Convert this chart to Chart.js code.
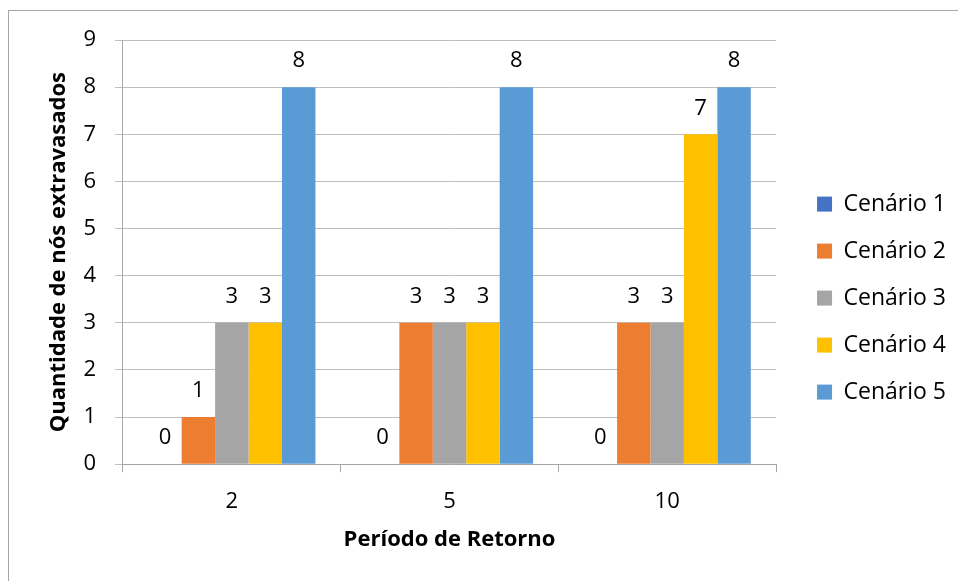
<!DOCTYPE html>
<html>
<head>
<meta charset="utf-8">
<script src="https://cdn.jsdelivr.net/npm/chart.js@4.4.1/dist/chart.umd.min.js"></script>
<style>
  html, body { margin: 0; padding: 0; background: #fff; overflow: hidden; }
  #frame { position: absolute; left: 8px; top: 10px; width: 1000px; height: 1000px; border: 1px solid #a6a6a6; }
  #chart { position: absolute; left: 0; top: 0; }
</style>
</head>
<body>
<div id="frame"></div>
<canvas id="chart" width="958" height="581"></canvas>
<script>
// Return periods on the x axis
const periods = ['2', '5', '10'];

// Overflowed nodes per scenario, one value per return period
const cenario1 = [0, 0, 0];
const cenario2 = [1, 3, 3];
const cenario3 = [3, 3, 3];
const cenario4 = [3, 3, 7];
const cenario5 = [8, 8, 8];

const scenarioNames = ['Cenário 1', 'Cenário 2', 'Cenário 3', 'Cenário 4', 'Cenário 5'];
const scenarioColors = ['#4472C4', '#ED7D31', '#A5A5A5', '#FFC000', '#5B9BD5'];
const scenarioValues = [cenario1, cenario2, cenario3, cenario4, cenario5];

const yMax = 9;

Chart.defaults.font.family = "'Open Sans', sans-serif";
Chart.defaults.color = '#000';

// Writes each bar's value just above it
const barValueLabels = {
  id: 'barValueLabels',
  afterDatasetsDraw(chart) {
    const ctx = chart.ctx;
    ctx.save();
    ctx.font = "22px 'Open Sans', sans-serif";
    ctx.fillStyle = '#000';
    ctx.textAlign = 'center';
    ctx.textBaseline = 'middle';
    chart.data.datasets.forEach((ds, i) => {
      chart.getDatasetMeta(i).data.forEach((bar, j) => {
        ctx.fillText(String(ds.data[j]), bar.x, bar.y - 26);
      });
    });
    ctx.restore();
  }
};

const datasets = scenarioNames.map((name, i) => ({
  label: name,
  data: scenarioValues[i],
  backgroundColor: scenarioColors[i],
  borderWidth: 0,
  categoryPercentage: 0.768,
  barPercentage: 1.0
}));

new Chart(document.getElementById('chart'), {
  type: 'bar',
  data: { labels: periods, datasets: datasets },
  plugins: [barValueLabels],
  options: {
    responsive: false,
    animation: false,
    layout: { padding: { left: 46, top: 40, right: 2, bottom: 28 } },
    plugins: {
      tooltip: { enabled: false },
      legend: {
        position: 'right',
        align: 'center',
        maxWidth: 220,
        // blank title only nudges the entries down a little
        title: { display: true, text: '', font: { size: 1 }, padding: { top: 2, bottom: 0 } },
        labels: {
          boxWidth: 15,
          boxHeight: 15,
          padding: 24,
          color: '#000',
          font: { size: 23 }
        }
      }
    },
    scales: {
      x: {
        grid: {
          display: true,
          drawOnChartArea: false,
          drawTicks: true,
          tickLength: 8,
          offset: true,
          color: '#a6a6a6'
        },
        border: { color: '#a6a6a6' },
        ticks: { color: '#000', font: { size: 22 }, padding: 16 },
        title: {
          display: true,
          text: 'Período de Retorno',
          color: '#000',
          font: { size: 22, weight: 'bold' },
          padding: { top: -4, bottom: 0 }
        }
      },
      y: {
        min: 0,
        max: yMax,
        ticks: { stepSize: 1, color: '#000', font: { size: 22 }, padding: 19 },
        grid: { color: '#bfbfbf', tickLength: 8 },
        border: { color: '#a6a6a6' },
        title: {
          display: true,
          text: 'Quantidade de nós extravasados',
          color: '#000',
          font: { size: 22, weight: 'bold' },
          padding: { top: 0, bottom: -8 }
        }
      },
      // empty strip between the plot and the legend
      gap: {
        type: 'linear',
        position: 'right',
        display: true,
        grid: { display: false },
        border: { display: false },
        ticks: { display: false },
        afterFit(scale) { scale.width = 17; }
      }
    }
  }
});
</script>
</body>
</html>
